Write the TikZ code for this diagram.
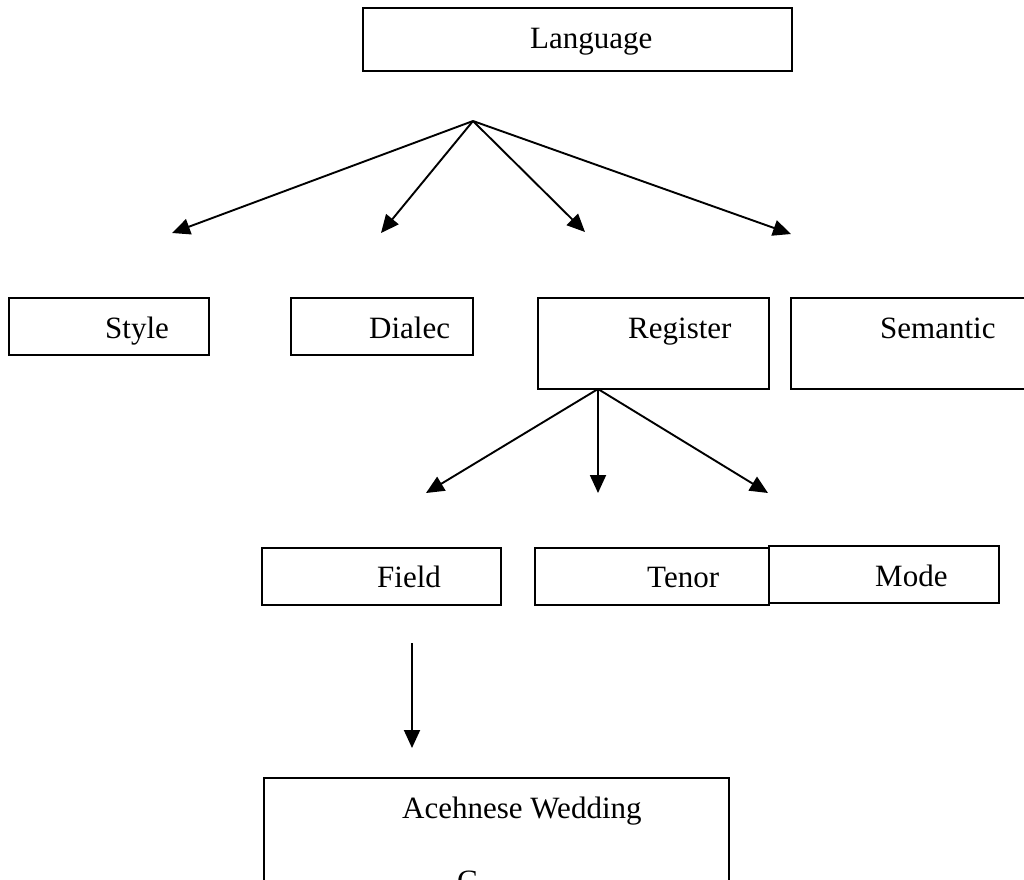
\documentclass[tikz,border=0pt]{standalone}
\usepackage{fontspec}
\setmainfont{Liberation Serif}
\usetikzlibrary{arrows.meta}
\begin{document}
\begin{tikzpicture}[x=1pt,y=-1pt,
  box/.style={draw=black,line width=2.1pt,rectangle,inner sep=0pt},
  txt/.style={anchor=base west,inner sep=0pt,font=\fontsize{31}{37}\selectfont},
  arr/.style={draw=black,line width=1.9pt,-{Triangle[length=18pt,width=16pt]}}]
\useasboundingbox (0,0) rectangle (1024,879);
\clip (0,0) rectangle (1024,879);
\fill[white] (0,0) rectangle (1024,879);
% boxes
\node[box,minimum width=429pt,minimum height=63pt] (lang) at (577.5,39.5) {};
\node[box,minimum width=200pt,minimum height=57pt] (style) at (109,326.5) {};
\node[box,minimum width=182pt,minimum height=57pt] (dialec) at (382,326.5) {};
\node[box,minimum width=231pt,minimum height=91pt] (register) at (653.5,343.5) {};
\node[box,minimum width=239pt,minimum height=91pt] (semantic) at (910.5,343.5) {};
\node[box,minimum width=239pt,minimum height=57pt] (field) at (381.5,576.5) {};
\node[box,minimum width=234pt,minimum height=57pt] (tenor) at (652,576.5) {};
\node[box,minimum width=230pt,minimum height=57pt] (mode) at (884,574.5) {};
\node[box,minimum width=465pt,minimum height=122pt] (acehnese) at (496.5,839) {};
% texts
\node[txt] (tlang) at (530,48) {Language};
\node[txt] (tstyle) at (105,338) {Style};
\node[txt] (tdialec) at (369,338) {Dialec};
\node[txt] (tregister) at (628,338) {Register};
\node[txt] (tsemantic) at (880,338) {Semantic};
\node[txt] (tfield) at (377,587) {Field};
\node[txt] (ttenor) at (647,587) {Tenor};
\node[txt] (tmode) at (875,586) {Mode};
\node[txt] (tacehnese) at (402,818) {Acehnese Wedding};
\node[txt] (tc) at (457,891) {C};
% connector points
\coordinate (apex) at (473,121);
\coordinate (a1) at (172,233);
\coordinate (a2) at (381,233);
\coordinate (a3) at (585,232);
\coordinate (a4) at (791,234);
\coordinate (regbot) at (598,389);
\coordinate (b1) at (426,493);
\coordinate (b2) at (598,493);
\coordinate (b3) at (768,493);
\coordinate (ftop) at (412,643);
\coordinate (fbot) at (412,748);
% arrows
\draw[arr] (apex) -- (a1);
\draw[arr] (apex) -- (a2);
\draw[arr] (apex) -- (a3);
\draw[arr] (apex) -- (a4);
\draw[arr] (regbot) -- (b1);
\draw[arr] (regbot) -- (b2);
\draw[arr] (regbot) -- (b3);
\draw[arr] (ftop) -- (fbot);
\end{tikzpicture}
\end{document}
